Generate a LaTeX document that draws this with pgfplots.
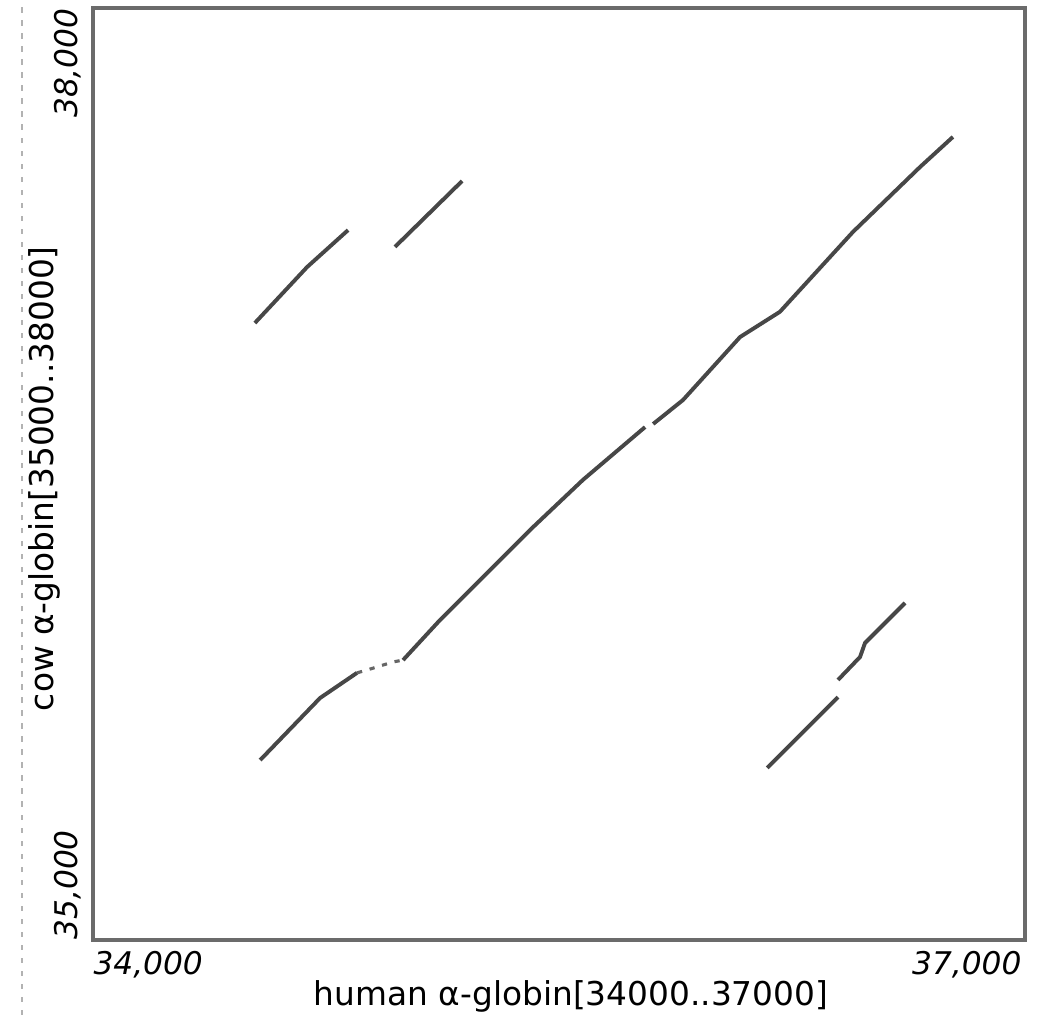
\documentclass[border=0pt]{standalone}
\usepackage{pgfplots}
\pgfplotsset{compat=1.18}
\usepackage{fontspec}
\setmainfont{DejaVu Sans}
\begin{document}
\begin{tikzpicture}
\begin{axis}[
  scale only axis,
  width=12.58cm, height=12.58cm,
  xmin=34000, xmax=37000, ymin=35000, ymax=38000,
  scaled ticks=false,
  axis line style={draw=black!58, line width=1.7pt},
  major tick length=0pt,
  xtick={34000}, xticklabels={\textit{34,000}},
  extra x ticks={37000}, extra x tick labels={\textit{37,000}},
  xticklabel style={anchor=north west, font=\fontsize{12}{14}\selectfont, inner sep=0pt, yshift=-0.14cm},
  extra x tick style={xticklabel style={anchor=north east, xshift=-0.04cm}},
  ytick={35000}, yticklabels={\textit{35,000}},
  extra y ticks={38000}, extra y tick labels={\textit{38,000}},
  yticklabel style={rotate=90, anchor=south west, font=\fontsize{12}{14}\selectfont, inner sep=0pt, yshift=0.15cm},
  extra y tick style={yticklabel style={anchor=south east}},
  xlabel={human α-globin[34000..37000]},
  ylabel={cow α-globin[35000..38000]},
  label style={font=\fontsize{12.6}{15}\selectfont},
  xlabel style={at={(axis description cs:0.513,0)}, anchor=center, yshift=-0.76cm},
  ylabel style={at={(axis description cs:0,0.495)}, anchor=center, yshift=0.65cm},
  clip=false,
]
% main diagonal
\addplot[black!72, line width=1.5pt] coordinates {(34538,35579) (34731,35779) (34850,35860)};
\addplot[black!60, line width=1.2pt, dash pattern=on 2pt off 3pt] coordinates {(34850,35860) (34882,35869) (34966,35895) (34998,35901)};
\addplot[black!72, line width=1.5pt] coordinates {(34998,35901) (35117,36030) (35407,36320) (35577,36481) (35777,36651)};
\addplot[black!72, line width=1.5pt] coordinates {(35803,36661) (35899,36738) (36083,36941) (36211,37022) (36446,37279) (36662,37488) (36768,37585)};
% upper-left
\addplot[black!72, line width=1.5pt] coordinates {(34521,36986) (34689,37166) (34821,37285)};
\addplot[black!72, line width=1.5pt] coordinates {(34972,37231) (35188,37443)};
% lower-right
\addplot[black!72, line width=1.5pt] coordinates {(36170,35554) (36398,35782)};
\addplot[black!72, line width=1.5pt] coordinates {(36398,35837) (36469,35911) (36485,35956) (36614,36085)};
\end{axis}
\draw[black!30, line width=0.8pt, dash pattern=on 2pt off 3pt] (-0.96,-1.0125) -- (-0.96,12.688);
\pgfresetboundingbox
\path[use as bounding box] (-1.2555,-1.0125) rectangle (12.742,12.688);
\end{tikzpicture}
\end{document}
